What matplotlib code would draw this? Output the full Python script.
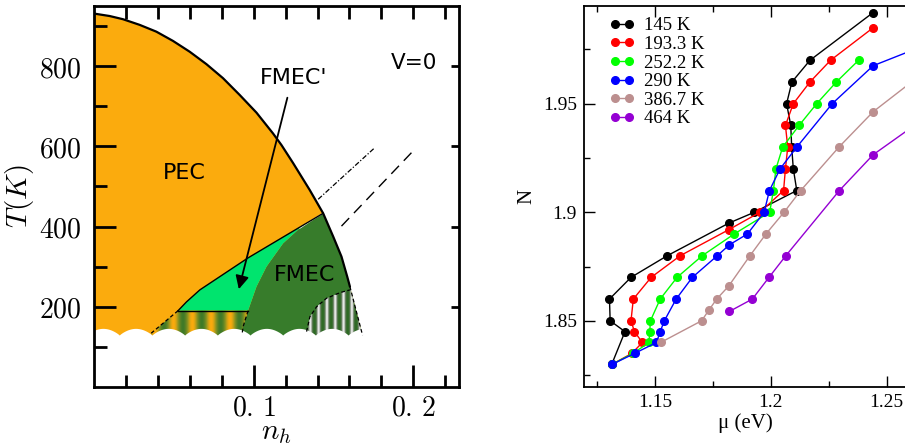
import numpy as np
import matplotlib
matplotlib.use('Agg')
import matplotlib.pyplot as plt
from matplotlib.colors import LinearSegmentedColormap
from matplotlib.patches import Polygon

plt.rcParams['mathtext.fontset'] = 'cm'

# ---- left panel: phase diagram boundaries (n_h, T) ----
outer_n = [0.0, 0.0096, 0.018, 0.0284, 0.0389, 0.0493, 0.0598, 0.0703, 0.0807, 0.0912, 0.1017,
           0.1121, 0.1174, 0.1247, 0.1351, 0.1435, 0.1498, 0.155, 0.1586, 0.1603]
outer_T = [931, 925, 917, 903, 886, 863, 836, 805, 770, 728, 684,
           632, 603, 558, 491, 433, 375, 325, 275, 250]
JUNC = 15                                    # index of the triple point
outer_tail_n = [0.1603, 0.1682, 0.1690]      # dashed continuation
outer_tail_T = [250, 129, 110]

fmec_left_n = [0.0964, 0.1017, 0.1080, 0.1184, 0.1289, 0.1373, 0.1435]   # FMEC' / FMEC border
fmec_left_T = [190, 250, 300, 358, 396, 418, 433]
fmec_low_n = [0.0964, 0.0933, 0.0920]        # dashed below
fmec_low_T = [190, 150, 110]

pec_line_n = [0.1435, 0.0965, 0.0662, 0.0578, 0.0525]           # PEC / FMEC' border
pec_line_T = [433, 322, 242, 212, 190]
pec_low_n = [0.0525, 0.0357, 0.0330]
pec_low_T = [190, 134, 110]

arc_n = [0.1310, 0.1331, 0.1352, 0.1394, 0.1456, 0.1540, 0.1603]
arc_T = [110, 138, 175, 200, 221, 235, 242]

dashdot_n = [0.1404, 0.176]
dashdot_T = [468, 597]
dash_n = [0.155, 0.201]
dash_T = [401, 593]

# ---- right panel: N vs mu ----
labels = ['145 K', '193.3 K', '252.2 K', '290 K', '386.7 K', '464 K']
colors = ['black', 'red', '#00ff00', 'blue', '#bc8f8f', '#9400d3']
mu_145 = [1.1313, 1.1370, 1.1306, 1.1303, 1.1396, 1.1553, 1.1819, 1.1929, 1.2112, 1.2097, 1.2090, 1.2086, 1.2068, 1.2091, 1.2169, 1.2442]
N_145 = [1.83, 1.845, 1.85, 1.86, 1.87, 1.88, 1.895, 1.90, 1.91, 1.92, 1.93, 1.94, 1.95, 1.96, 1.97, 1.992]
mu_193 = [1.1315, 1.1400, 1.1445, 1.1411, 1.1396, 1.1406, 1.1483, 1.1609, 1.1819, 1.1953, 1.2055, 1.2063, 1.2073, 1.2063, 1.2097, 1.2169, 1.2258, 1.2442]
N_193 = [1.83, 1.835, 1.84, 1.845, 1.85, 1.86, 1.87, 1.88, 1.892, 1.90, 1.91, 1.92, 1.93, 1.94, 1.95, 1.96, 1.97, 1.985]
mu_252 = [1.1315, 1.1405, 1.1474, 1.1477, 1.1480, 1.1522, 1.1595, 1.1704, 1.1842, 1.1995, 1.2011, 1.2022, 1.2051, 1.2122, 1.2198, 1.2283, 1.2379]
N_252 = [1.83, 1.835, 1.84, 1.845, 1.85, 1.86, 1.87, 1.88, 1.89, 1.90, 1.91, 1.92, 1.93, 1.94, 1.95, 1.96, 1.97]
mu_290 = [1.1316, 1.1412, 1.1506, 1.1522, 1.1540, 1.1591, 1.1661, 1.1769, 1.1821, 1.1899, 1.1971, 1.1994, 1.2040, 1.2112, 1.2265, 1.2442, 1.262]
N_290 = [1.83, 1.835, 1.84, 1.845, 1.85, 1.86, 1.87, 1.88, 1.885, 1.89, 1.90, 1.91, 1.92, 1.93, 1.95, 1.9675, 1.975]
mu_387 = [1.1524, 1.1701, 1.1733, 1.1766, 1.1818, 1.1910, 1.1979, 1.2057, 1.2129, 1.2294, 1.2442, 1.262]
N_387 = [1.84, 1.85, 1.855, 1.86, 1.866, 1.88, 1.89, 1.90, 1.91, 1.93, 1.9463, 1.961]
mu_464 = [1.1821, 1.1920, 1.1992, 1.2065, 1.2296, 1.2442, 1.262]
N_464 = [1.8543, 1.86, 1.87, 1.88, 1.91, 1.9265, 1.940]

ORANGE = '#fbab0d'
BRIGHT = '#00e46e'
DARK = '#377c2b'

fig = plt.figure(figsize=(9.05, 4.44), dpi=100)
ax1 = fig.add_axes([0.1042, 0.1286, 0.4030, 0.8579])
ax2 = fig.add_axes([0.6453, 0.1284, 0.3569, 0.8581])

# regions
pec_poly = list(zip(outer_n, outer_T)) + list(zip(outer_tail_n[1:], outer_tail_T[1:])) + [(0.0, 110)]
ax1.add_patch(Polygon(pec_poly, closed=True, fc=ORANGE, ec='none', zorder=1))

dark_poly = (list(zip(fmec_left_n, fmec_left_T)) + list(zip(outer_n[JUNC:], outer_T[JUNC:]))
             + list(zip(outer_tail_n[1:], outer_tail_T[1:])) + list(zip(fmec_low_n[::-1], fmec_low_T[::-1])))
ax1.add_patch(Polygon(dark_poly, closed=True, fc=DARK, ec='none', zorder=1.1))

bright_poly = list(zip(fmec_left_n, fmec_left_T)) + list(zip(pec_line_n[1:], pec_line_T[1:]))
ax1.add_patch(Polygon(bright_poly, closed=True, fc=BRIGHT, ec='none', zorder=1.2))
# thin white sliver near the triple point
ax1.plot(fmec_left_n[-3:], fmec_left_T[-3:], color='white', lw=0.8, zorder=1.25)

# striped regions
left_stripe = Polygon(list(zip(pec_low_n, pec_low_T)) + list(zip(fmec_low_n[::-1], fmec_low_T[::-1])),
                      closed=True, fc='none', ec='none')
ax1.add_patch(left_stripe)
cm_l = LinearSegmentedColormap.from_list('l', ['#3f7a28', '#8c9420', ORANGE])
gx = np.linspace(0.02, 0.11, 600)
im = ax1.imshow((0.5 + 0.5 * np.cos(2 * np.pi * (gx - 0.0556) / 0.0118 + np.pi))[None, :], cmap=cm_l,
                extent=[0.02, 0.11, 100, 200], aspect='auto', zorder=1.3, interpolation='bilinear')
im.set_clip_path(left_stripe)

right_stripe = Polygon(list(zip(arc_n, arc_T)) + list(zip(outer_tail_n, outer_tail_T)), closed=True, fc='none', ec='none')
ax1.add_patch(right_stripe)
cm_r = LinearSegmentedColormap.from_list('r', ['#2e6a24', '#6c7f66', '#f0f0f0'])
gx = np.linspace(0.125, 0.175, 600)
im2 = ax1.imshow((np.abs(np.cos(np.pi * (gx - 0.1404) / 0.0052)) ** 3)[None, :], cmap=cm_r,
                 extent=[0.125, 0.175, 100, 260], aspect='auto', zorder=1.3, interpolation='bilinear')
im2.set_clip_path(right_stripe)

# wavy white cut at the bottom
wx = np.linspace(0.0, 0.18, 800)
wy = 129 + 17 * np.abs(np.cos(np.pi * (wx - 0.0054) / 0.0205)) ** 0.8
ax1.fill_between(wx, 0, wy, color='white', lw=0, zorder=1.5)

# boundary lines
ax1.plot(outer_n, outer_T, color='k', lw=1.6, zorder=3, solid_capstyle='round')
ax1.plot(pec_line_n, pec_line_T, color='k', lw=1.0, zorder=3)
ax1.plot([pec_line_n[-1], fmec_left_n[0]], [pec_line_T[-1], fmec_left_T[0]], color='k', lw=1.0, zorder=3)
for xs, ys in [(outer_tail_n[:2], outer_tail_T[:2]), (fmec_low_n[:2] + [0.0928], fmec_low_T[:2] + [135]),
               (pec_low_n[:2], pec_low_T[:2]), (arc_n[1:], arc_T[1:])]:
    ax1.plot(xs, ys, color='k', lw=0.9, ls=(0, (3, 2)), zorder=3)
ax1.plot(dashdot_n, dashdot_T, color='k', lw=0.9, ls=(0, (4, 1.5, 1, 1.5)), zorder=3)
ax1.plot(dash_n, dash_T, color='k', lw=1.0, ls=(0, (8, 5)), zorder=3)

ax1.annotate('', xy=(0.0902, 237), xytext=(0.1215, 728),
             arrowprops=dict(arrowstyle='-|>', color='k', lw=1.3, mutation_scale=20), zorder=4)
ax1.text(0.1247, 770, "FMEC'", fontsize=16, ha='center', va='center', family='DejaVu Sans')
ax1.text(0.0567, 534, 'PEC', fontsize=16, ha='center', va='center', family='DejaVu Sans')
ax1.text(0.1320, 279, 'FMEC', fontsize=16, ha='center', va='center', family='DejaVu Sans')
ax1.text(0.2006, 809, 'V=0', fontsize=15.5, ha='center', va='center', family='DejaVu Sans')

ax1.set_xlim(0, 0.2287)
ax1.set_ylim(0, 950)
ax1.set_xticks([0.1, 0.2])
ax1.set_xticklabels([r'$0.\,1$', r'$0.\,2$'])
ax1.set_xticks(np.arange(0.02, 0.23, 0.02), minor=True)
ax1.set_yticks([200, 400, 600, 800])
ax1.set_yticklabels([r'$200$', r'$400$', r'$600$', r'$800$'])
ax1.set_yticks([100, 300, 500, 700, 900], minor=True)
ax1.tick_params(which='both', direction='in', width=2, labelsize=20)
ax1.tick_params(axis='y', pad=9)
ax1.tick_params(axis='x', pad=5)
ax1.tick_params(which='major', length=16)
ax1.tick_params(which='minor', length=9)
for s in ax1.spines.values():
    s.set_linewidth(2)
top = ax1.secondary_xaxis('top')
top.set_xticks(np.arange(0.02, 0.23, 0.02))
top.tick_params(direction='in', length=9, width=2, labeltop=False)
right = ax1.secondary_yaxis('right')
right.set_yticks([200, 400, 600, 800])
right.tick_params(direction='in', length=6, width=2, labelright=False)
ax1.set_xlabel(r'$n_h$', fontsize=21, labelpad=-3)
ax1.set_ylabel(r'$T(K)$', fontsize=21, labelpad=2)

# right panel
for mu, N, c, lab in zip([mu_145, mu_193, mu_252, mu_290, mu_387, mu_464],
                         [N_145, N_193, N_252, N_290, N_387, N_464], colors, labels):
    ax2.plot(mu, N, color=c, lw=1.0, marker='o', ms=5.5, label=lab)

serif = ['Liberation Serif', 'DejaVu Serif']
ax2.set_xlim(1.1193, 1.2588)
ax2.set_ylim(1.8195, 1.995)
ax2.set_xticks([1.15, 1.2, 1.25])
ax2.set_xticklabels(['1.15', '1.2', '1.25'])
ax2.set_xticks([1.125, 1.175, 1.225], minor=True)
ax2.set_yticks([1.85, 1.9, 1.95])
ax2.set_yticklabels(['1.85', '1.9', '1.95'])
ax2.set_yticks([1.825, 1.875, 1.925, 1.975], minor=True)
ax2.tick_params(which='both', direction='in', top=True, right=False, width=1, labelsize=14, pad=5)
ax2.tick_params(which='major', length=8)
ax2.tick_params(which='minor', length=4)
for lab in ax2.get_xticklabels() + ax2.get_yticklabels():
    lab.set_family(serif)
for s in ax2.spines.values():
    s.set_linewidth(1.3)
ax2.set_xlabel('μ (eV)', fontsize=15, family=serif, labelpad=2)
ax2.set_ylabel('N', fontsize=15, family=serif, labelpad=5)
ax2.legend(loc='upper left', frameon=False, numpoints=2, prop={'family': serif, 'size': 13.5},
           handlelength=1.3, handletextpad=0.5, labelspacing=0.08, borderaxespad=0.2,
           bbox_to_anchor=(0.045, 1.0))

fig.savefig('out.png', dpi=100)
